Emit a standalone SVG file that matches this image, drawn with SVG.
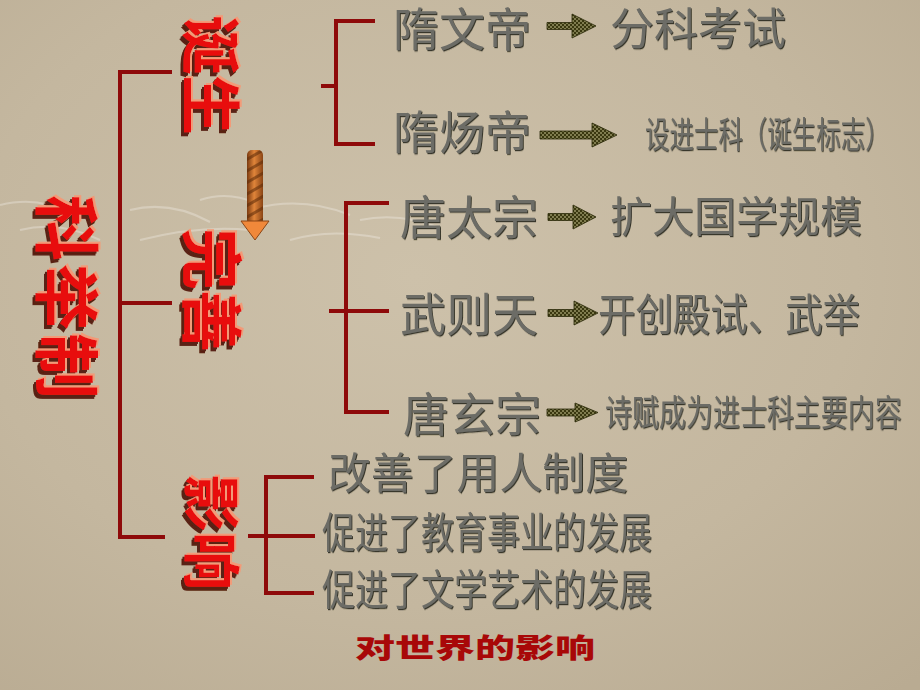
<svg xmlns="http://www.w3.org/2000/svg" width="920" height="690" viewBox="0 0 920 690">
<defs>
<radialGradient id="bg" cx="0.45" cy="0.4" r="0.8">
<stop offset="0" stop-color="#cdc1aa"/>
<stop offset="0.6" stop-color="#c4b79f"/>
<stop offset="1" stop-color="#b9ab92"/>
</radialGradient>
<pattern id="dots" width="4" height="4" patternUnits="userSpaceOnUse">
<rect width="4" height="4" fill="#3a3810"/>
<circle cx="1" cy="1" r="0.8" fill="#d8d2a0"/>
<circle cx="3" cy="3" r="0.8" fill="#d8d2a0"/>
</pattern>
<linearGradient id="rope" x1="0" y1="0" x2="1" y2="0">
<stop offset="0" stop-color="#7a3a10"/>
<stop offset="0.45" stop-color="#e0853a"/>
<stop offset="1" stop-color="#8a4515"/>
</linearGradient>
<pattern id="twist" width="20" height="10" patternUnits="userSpaceOnUse" patternTransform="rotate(-30)">
<rect width="20" height="10" fill="none"/>
<rect y="0" width="20" height="3" fill="#5a2a08" opacity="0.55"/>
</pattern>
<filter id="ext" x="-20%" y="-20%" width="140%" height="140%">
<feFlood flood-color="#5a2414" result="c1"/>
<feComposite in="c1" in2="SourceAlpha" operator="in" result="dark"/>
<feOffset in="dark" dx="4" dy="3" result="d1"/>
<feOffset in="dark" dx="2" dy="2" result="d2"/>
<feFlood flood-color="#f29a78" result="c2"/>
<feComposite in="c2" in2="SourceAlpha" operator="in" result="light"/>
<feOffset in="light" dx="-2" dy="-2" result="l1"/>
<feMerge><feMergeNode in="d1"/><feMergeNode in="d2"/><feMergeNode in="l1"/><feMergeNode in="SourceGraphic"/></feMerge>
</filter>
<filter id="sh" x="-5%" y="-10%" width="110%" height="130%">
<feDropShadow dx="1" dy="1.2" stdDeviation="0.4" flood-color="#26261f" flood-opacity="0.9"/>
</filter>
<style>
.ln{stroke:#8e0a0a;stroke-width:4;fill:none;stroke-linecap:square}
.red{font-family:"Noto Sans CJK SC",sans-serif;font-weight:700;fill:#e81010}
.t{font-family:"Noto Sans CJK SC","Noto Sans CJK TC",sans-serif;fill:#6c6c66;filter:url(#sh)}
.ar{fill:url(#dots);stroke:#2a2808;stroke-width:0.8}
.ft{font-family:"Noto Sans CJK SC",sans-serif;font-weight:900;fill:#a80808}
</style>
</defs>
<rect width="920" height="690" fill="url(#bg)"/>
<g opacity="0.35" stroke="#f4f0ea" stroke-width="2" fill="none">
<path d="M0 205 Q40 195 70 215 M20 230 Q60 220 100 240 M130 210 Q170 200 210 222 M140 240 Q200 225 250 230"/>
<path d="M250 210 Q300 195 350 215 M290 240 Q330 228 380 238 M360 220 Q400 212 440 228 M200 200 Q230 190 260 205"/>
</g>

<g id="connectors">
<path class="ln" d="M170 72 H120 V537 H163 M120 303 H170"/>
<path class="ln" d="M373 21 H336 V144 H373 M323 86 H336"/>
<path class="ln" d="M387 203 H346 V412 H387 M331 311 H387"/>
<path class="ln" d="M312 477 H266 V593 H312 M250 536 H313"/>
<path class="ar" d="M547 22.5 H572 V14 L596 26 L572 38 V29.5 H547 Z"/>
<path class="ar" d="M540 131 H592 V123 L617 135 L592 147 V139 H540 Z"/>
<path class="ar" d="M548 213.5 H573 V205 L596 217 L573 229 V220.5 H548 Z"/>
<path class="ar" d="M548 309.5 H574 V301 L598 313 L574 325 V316.5 H548 Z"/>
<path class="ar" d="M547 409 H575 V403 L598 412.5 L575 422 V416 H547 Z"/>
</g>

<g id="root">
<text class="red" font-size="66" letter-spacing="3" transform="translate(42,195) rotate(90)" filter="url(#ext)">科举制</text>
</g>
<g id="birth">
<text class="red" font-size="60" transform="translate(188,15) rotate(90)" filter="url(#ext)">诞生</text>
</g>
<g id="perfect">
<text class="red" font-size="62" transform="translate(188,228) rotate(90)" filter="url(#ext)">完善</text>
</g>
<g id="influence">
<text class="red" font-size="58" transform="translate(190,474) rotate(90)" filter="url(#ext)">影响</text>
</g>

<g id="twist-arrow">
<rect x="247" y="150" width="16" height="75" rx="5" fill="url(#rope)"/>
<rect x="247" y="150" width="16" height="75" rx="5" fill="url(#twist)"/>
<path d="M241 221 L269 221 L255 240 Z" fill="#f0883a" stroke="#8a4515" stroke-width="1"/>
</g>

<g id="sui-wen">
<text class="t" x="393" y="46" font-size="46">隋文帝</text>
<text class="t" x="610" y="45" font-size="44">分科考试</text>
</g>
<g id="sui-yang">
<text class="t" x="393" y="149" font-size="46">隋炀帝</text>
<text class="t" font-size="36" transform="translate(645,148) scale(0.68,1)">设进士科（诞生标志）</text>
</g>
<g id="tang-taizong">
<text class="t" x="400" y="234" font-size="46">唐太宗</text>
<text class="t" x="610" y="232" font-size="42">扩大国学规模</text>
</g>
<g id="wu-zetian">
<text class="t" x="400" y="331" font-size="46">武则天</text>
<text class="t" x="598" y="331" font-size="44" textLength="262" lengthAdjust="spacingAndGlyphs">开创殿试、武举</text>
</g>
<g id="tang-xuanzong">
<text class="t" x="403" y="431" font-size="46">唐玄宗</text>
<text class="t" font-size="36" transform="translate(605,426) scale(0.75,1)">诗赋成为进士科主要内容</text>
</g>
<g id="effects">
<text class="t" x="328" y="489" font-size="43" textLength="300" lengthAdjust="spacingAndGlyphs">改善了用人制度</text>
<text class="t" x="322" y="548" font-size="42" textLength="330" lengthAdjust="spacingAndGlyphs">促进了教育事业的发展</text>
<text class="t" x="322" y="605" font-size="42" textLength="330" lengthAdjust="spacingAndGlyphs">促进了文学艺术的发展</text>
</g>
<g id="world">
<text class="ft" x="355" y="658" font-size="27" textLength="240" lengthAdjust="spacingAndGlyphs">对世界的影响</text>
</g>
</svg>
